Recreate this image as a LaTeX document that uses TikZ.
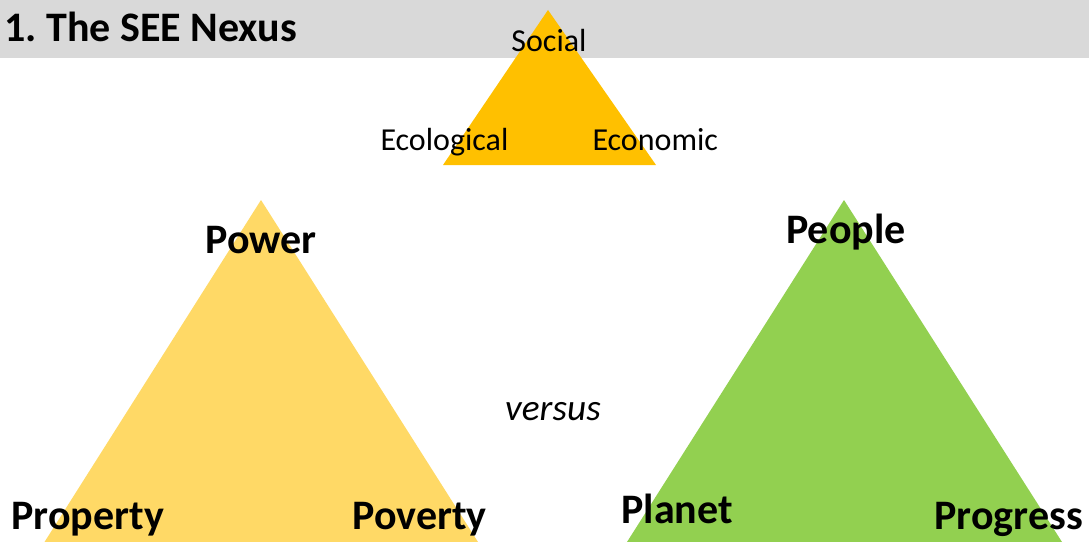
\documentclass[tikz,border=0pt]{standalone}
\usepackage{fontspec}
\setmainfont{Carlito}
\frenchspacing

\tikzset{every picture/.style={line width=0.75pt}}

\begin{document}
\begin{tikzpicture}[x=0.75pt,y=0.75pt,yscale=-1,xscale=1]
		%set diagram left start at 0, and has height of 542
		\useasboundingbox (0,0) rectangle (1089,542);
		
		%Shape: Rectangle [id:title bar] 
		\fill  [color={rgb, 255:red, 217; green, 217; blue, 217 }]  (0,0) -- (1089,0) -- (1089,58) -- (0,58) -- cycle ;
		%Shape: Triangle [id:see triangle] 
		\fill  [color={rgb, 255:red, 255; green, 192; blue, 0 }]  (548,10) -- (656,165) -- (443,165) -- cycle ;
		%Shape: Triangle [id:power triangle] 
		\fill  [color={rgb, 255:red, 255; green, 217; blue, 102 }]  (261,200) -- (478,542) -- (44.5,542) -- cycle ;
		%Shape: Triangle [id:people triangle] 
		\fill  [color={rgb, 255:red, 146; green, 208; blue, 80 }]  (844,200) -- (1062,542) -- (627,542) -- cycle ;
		
		% Text Node
		\draw (3,42) node [anchor=base west][inner sep=0.75pt]  (title) {\fontsize{31.5}{38}\selectfont\bfseries 1. The SEE Nexus};
		% Text Node
		\draw (549,52) node [anchor=base][inner sep=0.75pt]  (social) {\fontsize{24}{29}\selectfont Social};
		% Text Node
		\draw (379,150) node [anchor=base west][inner sep=0.75pt]  (ecological) {\fontsize{24}{29}\selectfont Ecological};
		% Text Node
		\draw (591,150) node [anchor=base west][inner sep=0.75pt]  (economic) {\fontsize{24}{29}\selectfont Economic};
		% Text Node
		\draw (261,253) node [anchor=base][inner sep=0.75pt]  (power) {\fontsize{31.5}{38}\selectfont\bfseries Power};
		% Text Node
		\draw (10,529) node [anchor=base west][inner sep=0.75pt]  (property) {\fontsize{31.5}{38}\selectfont\bfseries Property};
		% Text Node
		\draw (351,529) node [anchor=base west][inner sep=0.75pt]  (poverty) {\fontsize{31.5}{38}\selectfont\bfseries Poverty};
		% Text Node
		\draw (553,420) node [anchor=base][inner sep=0.75pt]  (versus) {\fontsize{28}{34}\selectfont\itshape versus};
		% Text Node
		\draw (846,243) node [anchor=base][inner sep=0.75pt]  (people) {\fontsize{31.5}{38}\selectfont\bfseries People};
		% Text Node
		\draw (620,523) node [anchor=base west][inner sep=0.75pt]  (planet) {\fontsize{31.5}{38}\selectfont\bfseries Planet};
		% Text Node
		\draw (933,529) node [anchor=base west][inner sep=0.75pt]  (progress) {\fontsize{31.5}{38}\selectfont\bfseries Progress};
		
\end{tikzpicture}
\end{document}
